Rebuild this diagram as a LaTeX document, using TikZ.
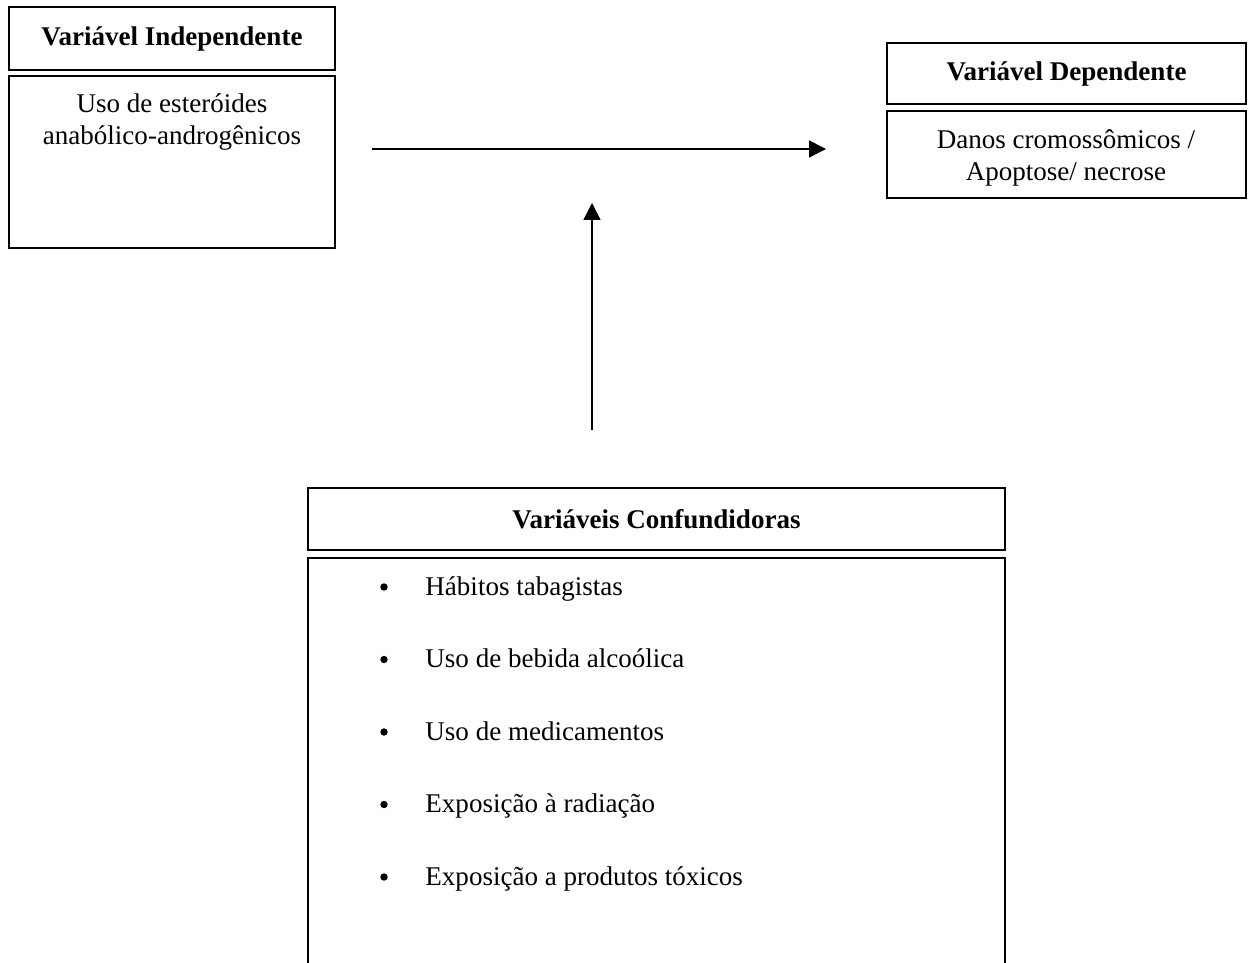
\documentclass[tikz,border=0pt]{standalone}
\usepackage{fontspec}
\setmainfont{Liberation Serif}
\usetikzlibrary{fit,arrows.meta}
\begin{document}
\begin{tikzpicture}
[x=0.444pt,y=-0.444pt, box/.style={draw,line width=0.9pt,inner sep=0pt},
t/.style={align=center,font=\fontsize{12}{13.8}\selectfont},
b/.style={circle,fill,inner sep=0pt,minimum size=3.3pt},
a/.style={-{Triangle[length=7.5pt,width=7.5pt]},line width=0.7pt}]
\clip (0,0) rectangle (1249,963);
% variavel independente
\node(ih)[box,fit={(9,7)(335,70)}]{};\node(ib)[box,fit={(9,76)(335,248)}]{};
\node(iht) at (ih)[t]{\textbf{Variável Independente}};
\node(ibt) at (172,122)[t]{Uso de esteróides\\anabólico-androgênicos};
% variavel dependente
\node(dh)[box,fit={(887,43)(1246,104)}]{};\node(db)[box,fit={(887,111)(1246,198)}]{};
\node(dht) at (dh)[t]{\textbf{Variável Dependente}};
\node(dbt) at (1066,158)[t]{Danos cromossômicos /\\Apoptose/ necrose};
% variaveis confundidoras
\node(ch)[box,fit={(308,488)(1005,550)}]{};\node(cb)[box,fit={(308,558)(1005,1000)}]{};
\node(cht) at (ch)[t]{\textbf{Variáveis Confundidoras}};
\foreach \i/\s in {0/Hábitos tabagistas,1/Uso de bebida alcoólica,2/Uso de medicamentos,
3/Exposição à radiação,4/Exposição a produtos tóxicos}{
\node(cb\i) at (384,587+72.5*\i)[b]{};
\node(ci\i) at (425,595+72.5*\i)[t,anchor=base west,inner sep=0pt]{\s};}
% setas
\coordinate(h1) at (372,149);\coordinate(h2) at (826,149);
\coordinate(v1) at (592,430);\coordinate(v2) at (592,203);
\draw[a](h1)--(h2);\draw[a](v1)--(v2);
\end{tikzpicture}
\end{document}
